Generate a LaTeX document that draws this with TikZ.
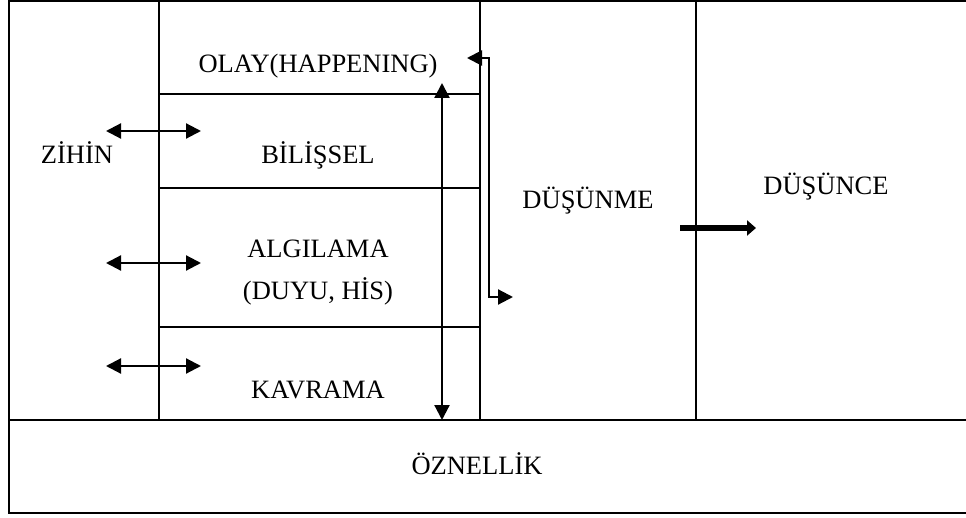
\documentclass[tikz,border=0pt]{standalone}
\usepackage{fontspec}
\setmainfont{Liberation Serif}
\usetikzlibrary{arrows.meta}

\begin{document}
\begin{tikzpicture}[x=1pt,y=-1pt, line width=2.8pt,
 every node/.style={font=\fontsize{26.5}{30}\selectfont, inner sep=0pt, anchor=base},
 twoway/.style={{Triangle[length=15pt,width=15pt]}-{Triangle[length=15pt,width=15pt]}, line width=2.2pt},
 bigarrow/.style={-{Triangle[length=9pt,width=15pt]}, line width=5.5pt}]
\useasboundingbox (0,0) rectangle (966,518);

% frame and cells
\draw (970,1) -- (9,1) -- (9,513) -- (970,513);
\draw (9,420) -- (970,420);
\draw (159,1) -- (159,420);
\draw (480,1) -- (480,420);
\draw (696,1) -- (696,420);
\draw (159,94) -- (480,94);
\draw (159,188) -- (480,188);
\draw (159,327) -- (480,327);

\node (olay) at (318,73) {OLAY(HAPPENING)};
\node (bilissel) at (318,164) {BİLİŞSEL};
\node (algilama) at (318,258) {ALGILAMA};
\node (duyu) at (318,300) {(DUYU, HİS)};
\node (kavrama) at (318,398) {KAVRAMA};
\node (zihin) at (77,164) {ZİHİN};
\node (dusunme) at (588,209) {DÜŞÜNME};
\node (dusunce) at (826,195) {DÜŞÜNCE};
\node (oznellik) at (477,474) {ÖZNELLİK};

% arrow ends
\coordinate (z1) at (106,131); \coordinate (z2) at (201,131);
\coordinate (a1) at (106,263); \coordinate (a2) at (201,263);
\coordinate (k1) at (106,366); \coordinate (k2) at (201,366);
\coordinate (top) at (442,83); \coordinate (bottom) at (442,420);
\coordinate (back) at (467,58); \coordinate (turn) at (489,297); \coordinate (out) at (513,297);
\coordinate (d1) at (680,228); \coordinate (d2) at (756,228);

\draw[twoway] (z1) -- (z2);
\draw[twoway] (a1) -- (a2);
\draw[twoway] (k1) -- (k2);
\draw[twoway] (top) -- (bottom);
\draw[twoway] (back) -| (turn) -- (out);
\draw[bigarrow] (d1) -- (d2);
\end{tikzpicture}
\end{document}
